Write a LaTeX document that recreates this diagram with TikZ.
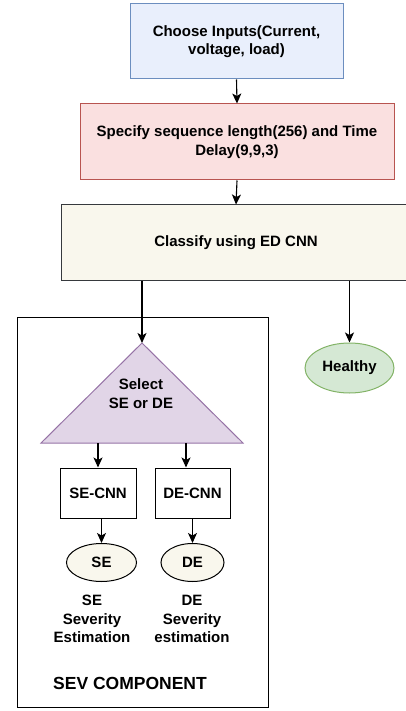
\documentclass[tikz,border=0pt]{standalone}
\usepackage{fontspec}
\setmainfont{Liberation Sans}
\usepackage{tikz}
\usetikzlibrary{positioning,shapes.geometric,arrows.meta}
\definecolor{inBlue}{RGB}{233,239,252}
\definecolor{inBlueLine}{RGB}{108,142,191}
\definecolor{seqRed}{RGB}{250,224,224}
\definecolor{seqRedLine}{RGB}{184,84,80}
\definecolor{clsCream}{RGB}{249,247,237}
\definecolor{clsLine}{RGB}{54,57,61}
\definecolor{selPurple}{RGB}{225,213,231}
\definecolor{selPurpleLine}{RGB}{150,115,166}
\definecolor{okGreen}{RGB}{213,232,212}
\definecolor{okGreenLine}{RGB}{130,179,102}

\begin{document}
\begin{tikzpicture}[
    x=1pt, y=-1pt,
    box/.style={
        draw,
        line width=1pt,
        align=center,
        inner sep=0pt,
        font=\fontsize{15}{18.5}\selectfont\bfseries
    },
    oval/.style={
        ellipse,
        draw,
        line width=1pt,
        inner sep=0pt,
        font=\fontsize{15}{18.5}\selectfont\bfseries
    },
    label/.style={
        align=center,
        inner sep=0pt,
        font=\fontsize{15}{18.5}\selectfont\bfseries
    },
    arrow/.style={
        ->,
        >={Stealth[length=10pt,width=9pt,inset=2.5pt]},
        line width=1.1pt,
        color=black
    }
]
    \useasboundingbox (0,0) rectangle (406,711);

    % ---------------------------------------------------------
    % TOP: INPUTS, SEQUENCE AND CLASSIFIER
    % ---------------------------------------------------------
    \node[box, fill=inBlue, draw=inBlueLine, minimum width=213pt, minimum height=75pt] (inputs) at (236.5,41.5) {Choose Inputs(Current,\\voltage, load)};

    \node[box, fill=seqRed, draw=seqRedLine, minimum width=314pt, minimum height=76pt] (seq) at (237,142) {Specify sequence length(256) and Time\\Delay(9,9,3)};

    \node[box, fill=clsCream, draw=clsLine, minimum width=350pt, minimum height=75pt] (classify) at (236,242.5) {Classify using ED CNN};

    % ---------------------------------------------------------
    % RIGHT: HEALTHY OUTCOME
    % ---------------------------------------------------------
    \node[oval, fill=okGreen, draw=okGreenLine, minimum width=89pt, minimum height=50pt] (healthy) at (349.5,368) {Healthy};

    % ---------------------------------------------------------
    % LEFT: SEV COMPONENT
    % ---------------------------------------------------------
    \node[box, fill=none, minimum width=251pt, minimum height=390pt] (sev) at (142.5,512) {};

    % selector triangle
    \coordinate (apex) at (142,343);
    \coordinate (baseR) at (243,443);
    \coordinate (baseL) at (41,443);
    \draw[line width=1pt, fill=selPurple, draw=selPurpleLine] (apex) -- (baseR) -- (baseL) -- cycle;
    \node[label] (select) at (141,393.5) {Select\\SE or DE};
    \coordinate (seOut) at (98,443);
    \coordinate (deOut) at (186,443);

    % SE branch
    \node[box, minimum width=76pt, minimum height=50pt] (secnn) at (98,493) {SE-CNN};
    \node[oval, fill=clsCream, minimum width=70pt, minimum height=38pt] (se) at (101.5,562.5) {SE};
    \node[label] (seText) at (92,619) {SE\\Severity\\Estimation};

    % DE branch
    \node[box, minimum width=75pt, minimum height=50pt] (decnn) at (192.5,493) {DE-CNN};
    \node[oval, fill=clsCream, minimum width=63pt, minimum height=38pt] (de) at (192.5,562.5) {DE};
    \node[label] (deText) at (192,619) {DE\\Severity\\estimation};

    \node[label, font=\fontsize{17.5}{21}\selectfont\bfseries] (sevText) at (130,683) {SEV COMPONENT};

    % ---------------------------------------------------------
    % ARROWS
    % ---------------------------------------------------------
    \draw[arrow] (inputs.south) -- (seq.north);
    \draw[arrow] (seq.south) -- (classify.north);
    \draw[arrow] (classify.south -| apex) -- (apex);
    \draw[arrow] (classify.south -| healthy.north) -- (healthy.north);

    \draw[arrow] (seOut) -- (seOut |- secnn.north);
    \draw[arrow] (deOut) -- (deOut |- decnn.north);
    \draw[arrow] (secnn.south -| se.north) -- (se.north);
    \draw[arrow] (decnn.south) -- (de.north);

\end{tikzpicture}
\end{document}
